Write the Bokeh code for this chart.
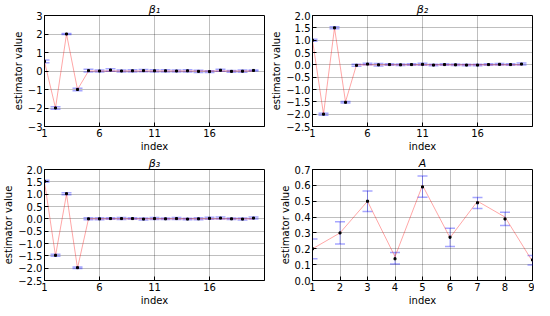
from bokeh.plotting import figure
from bokeh.layouts import gridplot
from bokeh.models import ColumnDataSource, Whisker, TeeHead, FixedTicker, Range1d
from bokeh.embed import file_html
from bokeh.resources import INLINE

# ---------------- data ----------------
idx20 = list(range(1, 21))
idx9 = list(range(1, 10))

beta1_true = [0.5, -2.0, 2.0, -1.0] + [0.0] * 16
beta1_est = [0.52, -2.0, 2.0, -1.0, 0.02, 0.0, 0.05, 0.0, 0.01, 0.02,
             0.01, 0.01, 0.0, 0.01, -0.02, -0.03, 0.04, -0.02, -0.01, 0.03]
beta1_err = [0.07, 0.07, 0.03, 0.07, 0.07, 0.06, 0.07, 0.05, 0.06, 0.06,
             0.06, 0.06, 0.05, 0.06, 0.06, 0.05, 0.06, 0.05, 0.06, 0.03]

beta2_true = [1.0, -2.0, 1.5, -1.5] + [0.0] * 16
beta2_est = [1.0, -2.0, 1.5, -1.52, -0.02, 0.03, 0.0, 0.01, 0.0, 0.01,
             0.02, -0.01, 0.01, 0.0, -0.01, -0.01, 0.01, 0.02, 0.01, 0.03]
beta2_err = [0.04, 0.04, 0.04, 0.03, 0.04, 0.03, 0.05, 0.03, 0.03, 0.03,
             0.04, 0.03, 0.03, 0.03, 0.03, 0.03, 0.03, 0.03, 0.03, 0.04]

beta3_true = [1.5, -1.5, 1.0, -2.0] + [0.0] * 16
beta3_est = [1.52, -1.48, 1.02, -1.98, 0.0, 0.0, 0.01, 0.01, 0.01, -0.01,
             0.01, 0.0, 0.01, -0.01, 0.0, 0.02, 0.03, 0.0, -0.01, 0.03]
beta3_err = [0.04, 0.04, 0.04, 0.03, 0.04, 0.04, 0.03, 0.04, 0.03, 0.04,
             0.04, 0.03, 0.04, 0.03, 0.04, 0.04, 0.04, 0.03, 0.04, 0.04]

A_true = [0.2, 0.3, 0.5, 0.15, 0.6, 0.27, 0.5, 0.4, 0.12]
A_est = [0.2, 0.3, 0.5, 0.137, 0.59, 0.273, 0.49, 0.388, 0.13]
A_lower = [0.137, 0.23, 0.435, 0.104, 0.525, 0.214, 0.454, 0.347, 0.097]
A_upper = [0.261, 0.37, 0.565, 0.176, 0.659, 0.33, 0.524, 0.43, 0.157]

FONT = "DejaVu Sans"


def fmt(v, dec):
    s = f"{v:.{dec}f}"
    return s.replace("-", "\u2212")


def panel(title, x, true, est, lo, hi, xr, yr, xticks, yticks, ydec,
          width, height, bl, br, bt, bb):
    p = figure(width=width, height=height, output_backend="svg",
               toolbar_location=None, x_range=Range1d(*xr), y_range=Range1d(*yr),
               min_border_left=bl, min_border_right=br,
               min_border_top=bt, min_border_bottom=bb)
    p.title.text = title
    p.title.align = "center"
    p.title.text_font = FONT
    p.title.text_font_style = "italic"
    p.title.text_font_size = "11px"
    p.title.text_color = "black"
    p.title.standoff = 0
    p.title.offset = 0
    p.outline_line_color = "black"
    p.outline_line_width = 1
    p.outline_line_alpha = 1
    p.background_fill_color = "white"
    p.border_fill_color = "white"

    for ax in (p.xaxis[0], p.yaxis[0]):
        ax.axis_line_color = "black"
        ax.major_tick_in = 4
        ax.major_tick_out = 0
        ax.minor_tick_line_color = None
        ax.major_label_text_font = FONT
        ax.major_label_text_font_size = "10px"
        ax.major_label_text_color = "black"
        ax.axis_label_text_font = FONT
        ax.axis_label_text_font_size = "10px"
        ax.axis_label_text_font_style = "normal"
        ax.axis_label_text_color = "black"
        ax.major_label_standoff = 2
        ax.axis_label_standoff = 1

    p.xaxis[0].ticker = FixedTicker(ticks=xticks)
    p.xaxis[0].major_label_overrides = {t: str(t) for t in xticks}
    p.yaxis[0].ticker = FixedTicker(ticks=yticks)
    p.yaxis[0].major_label_overrides = {t: fmt(t, ydec) for t in yticks}
    p.xaxis[0].axis_label = "index"
    p.yaxis[0].axis_label = "estimator value"

    for g in (p.xgrid[0], p.ygrid[0]):
        g.grid_line_color = "black"
        g.grid_line_alpha = 0.5
        g.grid_line_dash = "1 1"
        g.grid_line_width = 1

    src = ColumnDataSource(dict(x=x, true=true, est=est, lo=lo, hi=hi))
    p.line("x", "true", source=src, line_color="red", line_alpha=0.35, line_width=1)
    w = Whisker(source=src, base="x", lower="lo", upper="hi",
                line_color="blue", line_alpha=0.35, line_width=1,
                upper_head=TeeHead(size=10, line_color="blue", line_alpha=0.35, line_width=1.5),
                lower_head=TeeHead(size=10, line_color="blue", line_alpha=0.35, line_width=1.5))
    p.add_layout(w)
    p.scatter("x", "est", source=src, marker="square", size=2,
              color="black")
    return p


def pm(est, err):
    return [e - d for e, d in zip(est, err)], [e + d for e, d in zip(est, err)]


W1, W2, H = 268, 266, 154
lo1, hi1 = pm(beta1_est, beta1_err)
lo2, hi2 = pm(beta2_est, beta2_err)
lo3, hi3 = pm(beta3_est, beta3_err)

YT2 = [-2.5, -2.0, -1.5, -1.0, -0.5, 0.0, 0.5, 1.0, 1.5, 2.0]

p1 = panel("β\u2081", idx20, beta1_true, beta1_est, lo1, hi1, (1, 21), (-3, 3),
           [1, 6, 11, 16], [-3, -2, -1, 0, 1, 2, 3], 0, W1, H, 20, 4, 0, 0)
p2 = panel("β\u2082", idx20, beta2_true, beta2_est, lo2, hi2, (1, 21), (-2.5, 2.0),
           [1, 6, 11, 16], YT2, 1, W2, H, 30, 2, 0, 0)
p3 = panel("β\u2083", idx20, beta3_true, beta3_est, lo3, hi3, (1, 21), (-2.5, 2.0),
           [1, 6, 11, 16], YT2, 1, W1, H, 20, 4, 0, 0)
p4 = panel("A", idx9, A_true, A_est, A_lower, A_upper, (1, 9), (0.0, 0.7),
           idx9, [0.0, 0.1, 0.2, 0.3, 0.4, 0.5, 0.6, 0.7], 1,
           W2, H, 30, 2, 0, 0)

grid = gridplot([[p1, p2], [p3, p4]], toolbar_location=None)

open("out.html", "w").write(file_html(grid, INLINE))
